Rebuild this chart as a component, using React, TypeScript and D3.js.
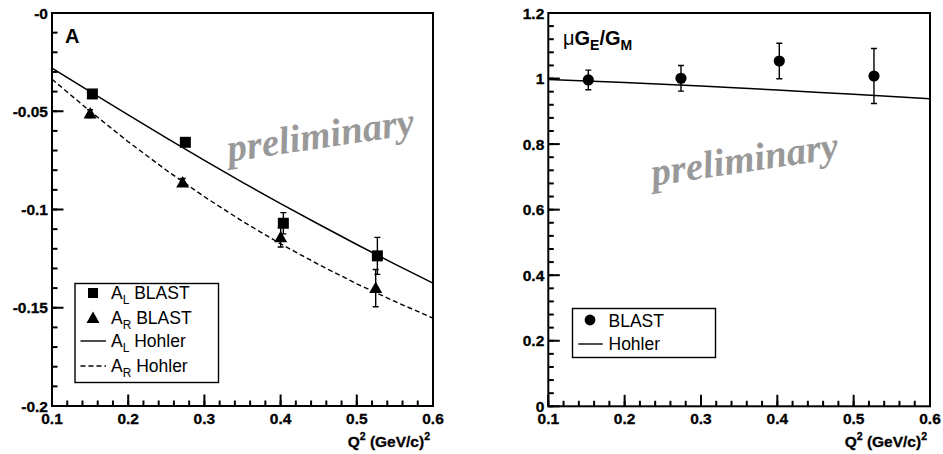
import { line, range, scaleLinear, select } from "d3";
import React, { useEffect, useRef } from "react";

// Q^2 axis (both panels)
const q2Ticks = [0.1, 0.2, 0.3, 0.4, 0.5, 0.6];
const q2TickLabels = ["0.1", "0.2", "0.3", "0.4", "0.5", "0.6"];

// left panel: asymmetries
const asymTicks = [0, -0.05, -0.1, -0.15, -0.2];
const asymTickLabels = ["-0", "-0.05", "-0.1", "-0.15", "-0.2"];

const blastQ2L = [0.153, 0.275, 0.4036, 0.527];
const blastAL = [-0.0412, -0.0658, -0.107, -0.1236];
const blastALErr = [0.002, 0.002, 0.0054, 0.0094];

const blastQ2R = [0.15, 0.2715, 0.4001, 0.5248];
const blastAR = [-0.0512, -0.0862, -0.1141, -0.14];
const blastARErr = [0.002, 0.002, 0.005, 0.0095];

const hohlerQ2 = [0.1, 0.15, 0.2, 0.25, 0.3, 0.35, 0.4, 0.45, 0.5, 0.55, 0.6];
const hohlerAL = [-0.0281, -0.04, -0.0518, -0.0635, -0.075, -0.0862, -0.097, -0.1075, -0.1178, -0.1278, -0.1375];
const hohlerAR = [-0.0337, -0.05, -0.0655, -0.08, -0.0935, -0.106, -0.1175, -0.128, -0.1378, -0.1468, -0.1553];

// right panel: mu GE/GM
const ratioTicks = [0, 0.2, 0.4, 0.6, 0.8, 1, 1.2];
const ratioTickLabels = ["0", "0.2", "0.4", "0.6", "0.8", "1", "1.2"];

const ratioQ2 = [0.1524, 0.2738, 0.4026, 0.5266];
const ratioVal = [0.9957, 1.0007, 1.0535, 1.0078];
const ratioErr = [0.03, 0.039, 0.054, 0.084];
const hohlerRatio = [0.997, 0.9925, 0.988, 0.9825, 0.977, 0.971, 0.965, 0.9585, 0.952, 0.9455, 0.9386];

const sans = "'Liberation Sans', Arial, Helvetica, sans-serif";
const serif = "'Liberation Serif', 'Times New Roman', serif";

function drawFrame(g, x, y, yTicks, yLabels, yMinorStep) {
  const [x0, x1] = x.range();
  const [y0, y1] = y.range();

  // minor ticks every 0.02 on x, yMinorStep on y, all pointing inward
  const xMinor = range(0, 26).map((i) => 0.1 + i * 0.02);
  const [yd0, yd1] = y.domain();
  const nY = Math.round((yd1 - yd0) / yMinorStep);
  const yMinor = range(0, nY + 1).map((i) => yd0 + i * yMinorStep);

  const ticks = g.append("g").attr("stroke", "#000").attr("stroke-width", 2);
  xMinor.forEach((v) => {
    ticks.append("line").attr("x1", x(v)).attr("x2", x(v)).attr("y1", y0).attr("y2", y0 - 5.5);
  });
  q2Ticks.forEach((v) => {
    ticks.append("line").attr("x1", x(v)).attr("x2", x(v)).attr("y1", y0).attr("y2", y0 - 11.5);
  });
  yMinor.forEach((v) => {
    ticks.append("line").attr("x1", x0).attr("x2", x0 + 5.5).attr("y1", y(v)).attr("y2", y(v));
  });
  yTicks.forEach((v) => {
    ticks.append("line").attr("x1", x0).attr("x2", x0 + 11.5).attr("y1", y(v)).attr("y2", y(v));
  });

  g.append("rect")
    .attr("x", x0)
    .attr("y", y1)
    .attr("width", x1 - x0)
    .attr("height", y0 - y1)
    .attr("fill", "none")
    .attr("stroke", "#000")
    .attr("stroke-width", 2);

  const labels = g
    .append("g")
    .attr("font-family", sans)
    .attr("font-weight", "bold")
    .attr("font-size", 15.5)
    .attr("stroke", "#000")
    .attr("stroke-width", 0.3);

  q2Ticks.forEach((v, i) => {
    labels
      .append("text")
      .attr("x", x(v))
      .attr("y", y0 + 17.5)
      .attr("text-anchor", "middle")
      .text(q2TickLabels[i]);
  });
  yTicks.forEach((v, i) => {
    labels
      .append("text")
      .attr("x", x0 - 4)
      .attr("y", y(v) + 5.5)
      .attr("text-anchor", "end")
      .text(yLabels[i]);
  });

  // Q^2 (GeV/c)^2 title
  const t = labels.append("text").attr("x", x1 - 3).attr("y", y0 + 41).attr("text-anchor", "end");
  t.append("tspan").text("Q");
  t.append("tspan").attr("dy", -7).attr("font-size", 10.5).text("2");
  t.append("tspan").attr("dy", 7).text("\u00a0(GeV/c)");
  t.append("tspan").attr("dy", -7).attr("font-size", 10.5).text("2");
}

function drawErrors(g, x, y, xs, ys, errs) {
  xs.forEach((q, i) => {
    const px = x(q);
    const top = y(ys[i] + errs[i]);
    const bot = y(ys[i] - errs[i]);
    g.append("path")
      .attr("d", `M${px},${top}V${bot}M${px - 3},${top}H${px + 3}M${px - 3},${bot}H${px + 3}`)
      .attr("stroke", "#000")
      .attr("stroke-width", 1.4)
      .attr("fill", "none");
  });
}

function squarePath(cx, cy, s) {
  return `M${cx - s / 2},${cy - s / 2}h${s}v${s}h${-s}Z`;
}
function trianglePath(cx, cy) {
  return `M${cx},${cy - 6.5}L${cx + 6.5},${cy + 5}L${cx - 6.5},${cy + 5}Z`;
}

function subLabel(g, x, yb, main, sub, rest, size) {
  const t = g
    .append("text")
    .attr("x", x)
    .attr("y", yb)
    .attr("font-family", sans)
    .attr("font-size", size);
  t.append("tspan").text(main);
  if (sub) t.append("tspan").attr("dy", 5).attr("font-size", size * 0.68).text(sub);
  t.append("tspan").attr("dy", sub ? -5 : 0).text(rest);
  return t;
}

function preliminary(g, cx, cy) {
  g.append("text")
    .attr("transform", `translate(${cx},${cy}) rotate(-8.5)`)
    .attr("y", 9)
    .attr("text-anchor", "middle")
    .attr("font-family", serif)
    .attr("font-style", "italic")
    .attr("font-weight", "bold")
    .attr("font-size", 39)
    .attr("fill", "#999999")
    .text("preliminary");
}

function App() {
  const svgRef = useRef(null);

  useEffect(() => {
    const svg = select(svgRef.current);
    svg.selectAll("*").remove();

    // ---------- left panel ----------
    const xL = scaleLinear().domain([0.1, 0.6]).range([52, 433]);
    const yL = scaleLinear().domain([-0.2, 0]).range([406, 13]);
    const gL = svg.append("g");

    preliminary(gL, 321, 139);

    const lineL = line()
      .x((d, i) => xL(hohlerQ2[i]))
      .y((d) => yL(d));

    gL.append("path")
      .attr("d", lineL(hohlerAL))
      .attr("fill", "none")
      .attr("stroke", "#000")
      .attr("stroke-width", 1.5);
    gL.append("path")
      .attr("d", lineL(hohlerAR))
      .attr("fill", "none")
      .attr("stroke", "#000")
      .attr("stroke-width", 1.4)
      .attr("stroke-dasharray", "5,3");

    drawErrors(gL, xL, yL, blastQ2L, blastAL, blastALErr);
    drawErrors(gL, xL, yL, blastQ2R, blastAR, blastARErr);

    blastAL.forEach((v, i) => {
      gL.append("path").attr("d", squarePath(xL(blastQ2L[i]), yL(v), 11)).attr("fill", "#000");
    });
    blastAR.forEach((v, i) => {
      gL.append("path").attr("d", trianglePath(xL(blastQ2R[i]), yL(v))).attr("fill", "#000");
    });

    drawFrame(gL, xL, yL, asymTicks, asymTickLabels, 0.01);

    gL.append("text")
      .attr("x", 65)
      .attr("y", 43)
      .attr("font-family", sans)
      .attr("font-weight", "bold")
      .attr("font-size", 20)
      .text("A");

    // legend
    const lg = gL.append("g");
    lg.append("rect")
      .attr("x", 75)
      .attr("y", 283.5)
      .attr("width", 143.5)
      .attr("height", 99)
      .attr("fill", "#fff")
      .attr("stroke", "#000")
      .attr("stroke-width", 1.4);
    lg.append("path").attr("d", squarePath(93, 293, 10)).attr("fill", "#000");
    subLabel(lg, 111, 299, "A", "L", "\u00a0BLAST", 17.5);
    lg.append("path").attr("d", trianglePath(93, 318)).attr("fill", "#000");
    subLabel(lg, 111, 323.5, "A", "R", "\u00a0BLAST", 17.5);
    lg.append("line")
      .attr("x1", 80.5)
      .attr("x2", 106)
      .attr("y1", 341)
      .attr("y2", 341)
      .attr("stroke", "#000")
      .attr("stroke-width", 1.4);
    subLabel(lg, 111, 347, "A", "L", "\u00a0Hohler", 17.5);
    lg.append("line")
      .attr("x1", 80.5)
      .attr("x2", 106)
      .attr("y1", 366)
      .attr("y2", 366)
      .attr("stroke", "#000")
      .attr("stroke-width", 1.4)
      .attr("stroke-dasharray", "5,3");
    subLabel(lg, 111, 372, "A", "R", "\u00a0Hohler", 17.5);

    // ---------- right panel ----------
    const xR = scaleLinear().domain([0.1, 0.6]).range([548.3, 930]);
    const yR = scaleLinear().domain([0, 1.2]).range([406.3, 13]);
    const gR = svg.append("g");

    preliminary(gR, 745, 163);

    const lineR = line()
      .x((d, i) => xR(hohlerQ2[i]))
      .y((d) => yR(d));
    gR.append("path")
      .attr("d", lineR(hohlerRatio))
      .attr("fill", "none")
      .attr("stroke", "#000")
      .attr("stroke-width", 1.5);

    drawErrors(gR, xR, yR, ratioQ2, ratioVal, ratioErr);
    ratioVal.forEach((v, i) => {
      gR.append("circle").attr("cx", xR(ratioQ2[i])).attr("cy", yR(v)).attr("r", 5.6).attr("fill", "#000");
    });

    drawFrame(gR, xR, yR, ratioTicks, ratioTickLabels, 0.04);

    const lab = gR
      .append("text")
      .attr("x", 563)
      .attr("y", 45)
      .attr("font-family", sans)
      .attr("font-weight", "bold")
      .attr("font-size", 20);
    lab.append("tspan").attr("font-weight", "normal").text("\u03bc");
    lab.append("tspan").text("G");
    lab.append("tspan").attr("dy", 5).attr("font-size", 14).text("E");
    lab.append("tspan").attr("dy", -5).text("/G");
    lab.append("tspan").attr("dy", 5).attr("font-size", 14).text("M");

    const rg = gR.append("g");
    rg.append("rect")
      .attr("x", 572.5)
      .attr("y", 308.5)
      .attr("width", 143)
      .attr("height", 49)
      .attr("fill", "#fff")
      .attr("stroke", "#000")
      .attr("stroke-width", 1.4);
    rg.append("circle").attr("cx", 590).attr("cy", 320).attr("r", 5.4).attr("fill", "#000");
    subLabel(rg, 608.5, 326.5, "BLAST", "", "", 17.5);
    rg.append("line")
      .attr("x1", 578.3)
      .attr("x2", 602.7)
      .attr("y1", 344)
      .attr("y2", 344)
      .attr("stroke", "#000")
      .attr("stroke-width", 1.4);
    subLabel(rg, 608.5, 350, "Hohler", "", "", 17.5);
  }, []);

  return (
    <svg
      ref={svgRef}
      width={943}
      height={454}
      style={{ position: "absolute", left: 0, top: 0, background: "#fff" }}
    ></svg>
  );
}

export default App;
